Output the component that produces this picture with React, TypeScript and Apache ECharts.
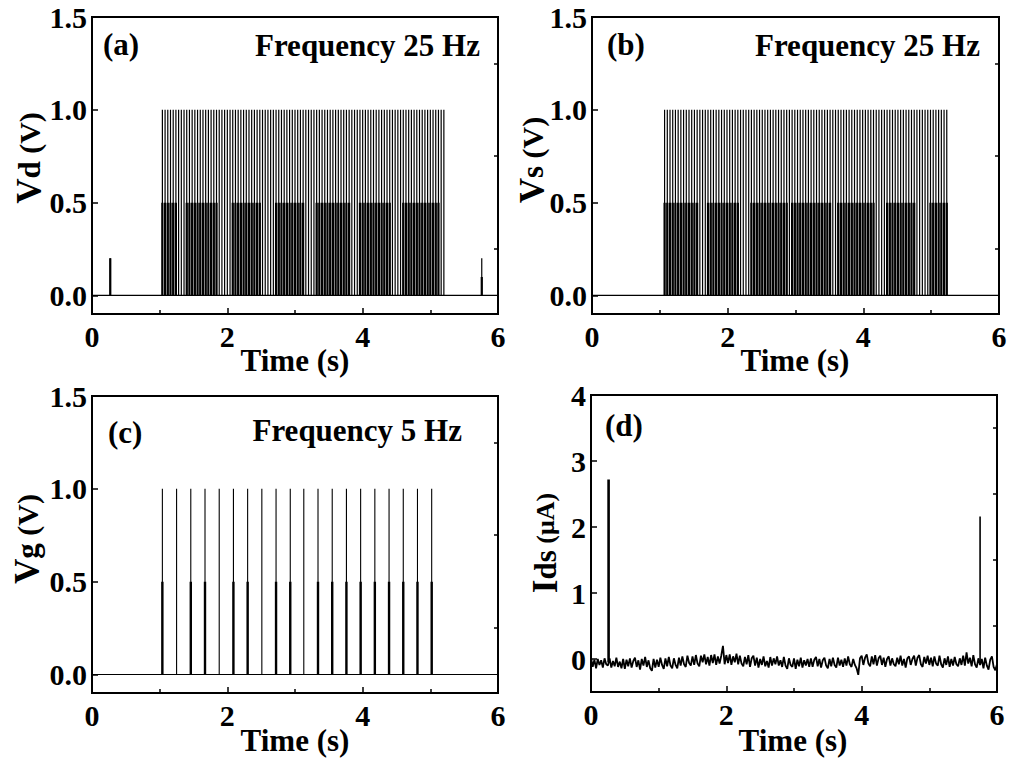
import React, { useEffect, useRef } from "react";
import * as echarts from "echarts";

// ---------- data ----------
const xTicks = [0, 2, 4, 6];
const vTickLabels = [0, 0.5, 1.0, 1.5];
const vMinorTicks = [0.25, 0.75, 1.25];
const iTickLabels = [0, 1, 2, 3, 4];
const iMinorTicks = [0.5, 1.5, 2.5, 3.5];

// (a) Vd : 25 Hz pulse train (pulse onset times, s)
const pulseTimesA = [
  1.04, 1.08, 1.12, 1.16, 1.2, 1.24, 1.28, 1.32, 1.36, 1.4, 1.44, 1.48, 1.52, 1.56, 1.6, 1.64, 1.68, 1.72, 1.76, 1.8,
  1.84, 1.88, 1.92, 1.96, 2.0, 2.04, 2.08, 2.12, 2.16, 2.2, 2.24, 2.28, 2.32, 2.36, 2.4, 2.44, 2.48, 2.52, 2.56, 2.6,
  2.64, 2.68, 2.72, 2.76, 2.8, 2.84, 2.88, 2.92, 2.96, 3.0, 3.04, 3.08, 3.12, 3.16, 3.2, 3.24, 3.28, 3.32, 3.36, 3.4,
  3.44, 3.48, 3.52, 3.56, 3.6, 3.64, 3.68, 3.72, 3.76, 3.8, 3.84, 3.88, 3.92, 3.96, 4.0, 4.04, 4.08, 4.12, 4.16, 4.2,
  4.24, 4.28, 4.32, 4.36, 4.4, 4.44, 4.48, 4.52, 4.56, 4.6, 4.64, 4.68, 4.72, 4.76, 4.8, 4.84, 4.88, 4.92, 4.96, 5.0,
  5.04, 5.08, 5.12, 5.16, 5.2,
];
const pulseHighA = 1.0;
const pulseLowA = 0.5;
// time spans where the 0.5 V plateau shows as dense black blocks
const halfBlocksA = [
  [1.04, 1.25], [1.4, 1.87], [2.06, 2.51], [2.69, 3.12], [3.31, 3.8], [3.95, 4.42], [4.58, 5.13],
];
const sideSpikesA = [[0.27, 0.2], [5.76, 0.2]];
const sideSpikesLowA = [[0.27, 0.2], [5.76, 0.1]];

// (b) Vs : 25 Hz pulse train
const pulseTimesB = [
  1.07, 1.11, 1.15, 1.19, 1.23, 1.27, 1.31, 1.35, 1.39, 1.43, 1.47, 1.51, 1.55, 1.59, 1.63, 1.67, 1.71, 1.75, 1.79, 1.83,
  1.87, 1.91, 1.95, 1.99, 2.03, 2.07, 2.11, 2.15, 2.19, 2.23, 2.27, 2.31, 2.35, 2.39, 2.43, 2.47, 2.51, 2.55, 2.59, 2.63,
  2.67, 2.71, 2.75, 2.79, 2.83, 2.87, 2.91, 2.95, 2.99, 3.03, 3.07, 3.11, 3.15, 3.19, 3.23, 3.27, 3.31, 3.35, 3.39, 3.43,
  3.47, 3.51, 3.55, 3.59, 3.63, 3.67, 3.71, 3.75, 3.79, 3.83, 3.87, 3.91, 3.95, 3.99, 4.03, 4.07, 4.11, 4.15, 4.19, 4.23,
  4.27, 4.31, 4.35, 4.39, 4.43, 4.47, 4.51, 4.55, 4.59, 4.63, 4.67, 4.71, 4.75, 4.79, 4.83, 4.87, 4.91, 4.95, 4.99, 5.03,
  5.07, 5.11, 5.15, 5.19, 5.23,
];
const pulseHighB = 1.0;
const pulseLowB = 0.5;
const halfBlocksB = [
  [1.06, 1.57], [1.69, 2.18], [2.33, 2.9], [2.95, 3.51], [3.63, 4.15], [4.32, 4.76], [4.96, 5.24],
];

// (c) Vg : 5 Hz pulse train
const pulseTimesC = [
  1.04, 1.25, 1.46, 1.67, 1.88, 2.09, 2.3, 2.51, 2.72, 2.93, 3.13, 3.34, 3.55, 3.76, 3.97, 4.18, 4.39, 4.6, 4.81, 5.02,
];
const pulseHighC = 1.0;
const pulseLowC = 0.5;
// whether the 0.5 V part of each pulse shows as a heavy line
const heavyLowC = [1, 0, 1, 1, 0, 1, 1, 0, 1, 1, 0, 1, 1, 1, 1, 1, 1, 1, 1, 1];

// (d) Ids : current (µA), sampled every 0.025 s from 0 to 6 s
const idsStep = 0.025;
const idsValues = [
  0.02, -0.12, -0.01, -0.14, 0.0, -0.09, -0.02, -0.13, 0.01, -0.08,
  -0.1, 0.01, -0.13, -0.03, -0.11, 0.02, -0.12, -0.04, -0.14, 0.0,
  -0.15, -0.01, -0.11, 0.01, -0.13, -0.03, 0.02, -0.12, -0.02, -0.16,
  0.0, -0.1, 0.03, -0.12, -0.02, -0.14, -0.18, 0.0, -0.13, -0.01,
  -0.12, 0.02, -0.09, -0.15, 0.01, -0.11, 0.03, -0.1, -0.14, 0.01,
  -0.09, -0.14, 0.02, -0.1, 0.04, -0.08, -0.12, 0.05, -0.06, -0.1,
  0.04, -0.09, 0.06, -0.07, -0.11, 0.05, -0.05, 0.07, -0.08, 0.03,
  -0.1, 0.06, -0.06, 0.07, -0.09, 0.04, -0.07, 0.05, 0.2, -0.08,
  0.06, -0.06, 0.07, -0.09, 0.04, -0.05, 0.08, -0.08, 0.05, -0.07,
  -0.11, 0.03, -0.08, 0.06, -0.12, 0.01, 0.05, -0.1, 0.02, -0.13,
  0.0, -0.09, 0.04, -0.11, -0.03, -0.13, 0.03, -0.1, 0.01, -0.08,
  0.04, -0.1, -0.02, -0.12, 0.03, -0.1, -0.15, 0.01, -0.09, -0.12,
  0.01, -0.15, -0.01, -0.11, 0.02, -0.13, -0.02, -0.1, 0.0, -0.12,
  0.01, -0.12, -0.01, 0.03, -0.11, 0.0, -0.13, -0.02, 0.02, -0.1,
  -0.14, 0.0, -0.11, 0.02, -0.09, -0.13, 0.02, -0.1, -0.01, -0.12,
  0.01, -0.1, 0.04, -0.08, -0.12, 0.0, -0.09, -0.14, -0.24, 0.01,
  0.05, -0.09, 0.02, 0.07, -0.07, -0.11, 0.04, -0.08, 0.06, -0.1,
  0.01, 0.05, -0.09, 0.02, -0.12, 0.0, 0.04, -0.1, 0.01, -0.08,
  -0.11, 0.02, -0.08, 0.05, -0.1, 0.0, -0.13, 0.01, 0.04, -0.09,
  0.0, 0.05, -0.1, 0.02, 0.06, -0.08, -0.12, 0.03, -0.07, 0.05,
  -0.09, 0.02, -0.11, 0.04, -0.07, -0.1, 0.05, -0.08, -0.13, 0.01,
  -0.09, 0.04, -0.12, 0.0, -0.1, 0.03, -0.08, -0.11, 0.01, -0.09,
  0.05, -0.1, 0.1, -0.07, 0.02, -0.11, 0.06, -0.08, -0.13, 0.01,
  -0.09, 0.0, -0.14, 0.02, -0.1, -0.16, -0.01, 0.04, -0.12, -0.17,
  -0.08,
];
const idsSpike1 = [[0.26, -0.05], [0.26, 2.72]];
const idsSpike2 = [[5.75, -0.04], [5.75, 2.16]];

// ---------- helpers ----------
const FONT = '"Liberation Serif", "Times New Roman", serif';

function inBlocks(t: number, blocks: number[][]) {
  return blocks.some(([a, b]) => t >= a - 1e-6 && t <= b + 1e-6);
}
function thinData(events: number[][]) {
  const ev = events.slice().sort((a, b) => a[0] - b[0]);
  const d: any[] = [[0, 0]];
  ev.forEach(([t, h]) => {
    d.push([t, 0], [t, h], [t, 0]);
  });
  d.push([6, 0]);
  return d;
}
function thickData(events: number[][]) {
  const d: any[] = [];
  events.forEach(([t, h]) => {
    d.push([t, 0], [t, h], [t, "-"]);
  });
  return d;
}

const grids = [
  { left: 92, top: 17, width: 406, height: 297 },
  { left: 592, top: 17, width: 407, height: 297 },
  { left: 92, top: 396, width: 406, height: 297 },
  { left: 591, top: 395, width: 406, height: 297 },
];

const labelStyle = {
  fontFamily: FONT,
  fontWeight: "bold",
  fontSize: 30,
  color: "#000",
};

function xAxisFor(i: number) {
  return {
    gridIndex: i,
    type: "value",
    min: 0,
    max: 6,
    interval: 2,
    axisLine: { show: false, onZero: false },
    splitLine: { show: false },
    axisTick: { show: true, inside: true, length: 6, lineStyle: { color: "#000", width: 1.5 } },
    minorTick: { show: true, splitNumber: 2, length: 4, lineStyle: { color: "#000", width: 1.5 } },
    minorSplitLine: { show: false },
    axisLabel: { ...labelStyle, margin: 7, customValues: xTicks, formatter: (v: number) => String(v) },
  };
}

function yAxesFor(i: number, min: number, max: number, labels: number[], minors: number[], dec: number) {
  return [
    {
      gridIndex: i,
      type: "value",
      min,
      max,
      axisLine: { show: false, onZero: false },
      splitLine: { show: false },
      axisTick: { show: true, inside: true, length: 6, customValues: labels, lineStyle: { color: "#000", width: 1.5 } },
      axisLabel: { ...labelStyle, margin: 5, customValues: labels, formatter: (v: number) => v.toFixed(dec) },
    },
    {
      gridIndex: i,
      type: "value",
      min,
      max,
      axisLine: { show: false, onZero: false },
      splitLine: { show: false },
      axisTick: { show: true, inside: true, length: 4, customValues: minors, lineStyle: { color: "#000", width: 1.5 } },
      axisLabel: { show: false },
    },
  ];
}

function lineSeries(i: number, data: any[], width: number, z = 2, color = "#000") {
  return {
    type: "line",
    xAxisIndex: i,
    yAxisIndex: i * 2,
    data,
    symbol: "none",
    silent: true,
    z,
    lineStyle: { color, width, cap: "butt", join: "bevel" },
  };
}

function text(x: number, y: number, t: string, size: number, align: string) {
  return {
    type: "text",
    x,
    y,
    silent: true,
    style: {
      text: t,
      fill: "#000",
      font: `bold ${size}px ${FONT}`,
      align,
      textAlign: align,
      verticalAlign: "middle",
      textVerticalAlign: "middle",
    },
  };
}

function yTitle(x: number, y: number, main: string, sub: string, unit: string, unitSize: number) {
  return {
    type: "text",
    x,
    y,
    rotation: Math.PI / 2,
    silent: true,
    style: {
      text: `{m|${main}}{s|${sub}}{u| ${unit}}`,
      fill: "#000",
      align: "center",
      textAlign: "center",
      verticalAlign: "middle",
      textVerticalAlign: "middle",
      rich: {
        m: { fontFamily: FONT, fontWeight: "bold", fontSize: 35, fill: "#000", color: "#000" },
        s: { fontFamily: FONT, fontWeight: "bold", fontSize: 31, fill: "#000", color: "#000" },
        u: { fontFamily: FONT, fontWeight: "bold", fontSize: unitSize, fill: "#000", color: "#000" },
      },
    },
  };
}

export default function App() {
  const ref = useRef<HTMLDivElement>(null);

  useEffect(() => {
    if (!ref.current) return;
    const chart = echarts.init(ref.current, null, { renderer: "svg" });

    const thinA = thinData([...pulseTimesA.map((t) => [t, pulseHighA]), ...sideSpikesA]);
    const thickA = thickData([
      ...pulseTimesA.filter((t) => inBlocks(t, halfBlocksA)).map((t) => [t, pulseLowA]),
      ...sideSpikesLowA,
    ]);
    const thinB = thinData(pulseTimesB.map((t) => [t, pulseHighB]));
    const thickB = thickData(pulseTimesB.filter((t) => inBlocks(t, halfBlocksB)).map((t) => [t, pulseLowB]));
    const thinC = thinData(pulseTimesC.map((t) => [t, pulseHighC]));
    const thickC = thickData(pulseTimesC.filter((_, k) => heavyLowC[k] === 1).map((t) => [t, pulseLowC]));
    const idsData = idsValues.map((v, k) => [k * idsStep, v]);

    const option: any = {
      animation: false,
      backgroundColor: "#fff",
      grid: grids.map((g) => ({
        ...g,
        show: true,
        borderColor: "#000",
        borderWidth: 2,
        backgroundColor: "transparent",
        containLabel: false,
      })),
      xAxis: [0, 1, 2, 3].map((i) => xAxisFor(i)),
      yAxis: [
        ...yAxesFor(0, -0.1, 1.5, vTickLabels, vMinorTicks, 1),
        ...yAxesFor(1, -0.1, 1.5, vTickLabels, vMinorTicks, 1),
        ...yAxesFor(2, -0.1, 1.5, vTickLabels, vMinorTicks, 1),
        ...yAxesFor(3, -0.5, 4, iTickLabels, iMinorTicks, 0),
      ],
      series: [
        lineSeries(0, thinA, 1.2),
        lineSeries(0, thickA, 2.2, 3),
        lineSeries(1, thinB, 1.2),
        lineSeries(1, thickB, 2.2, 3),
        lineSeries(2, thinC, 1.1),
        lineSeries(2, thickC, 2.4, 3),
        lineSeries(3, idsData, 1.8),
        lineSeries(3, idsSpike1, 2.6, 3),
        lineSeries(3, idsSpike2, 1.6, 3),
      ],
      graphic: [
        text(103, 44, "(a)", 31, "left"),
        text(480, 45, "Frequency 25 Hz", 31, "right"),
        text(607, 44, "(b)", 31, "left"),
        text(980, 45, "Frequency 25 Hz", 31, "right"),
        text(108, 432, "(c)", 31, "left"),
        text(462, 430, "Frequency 5 Hz", 31, "right"),
        text(605, 425, "(d)", 31, "left"),
        text(295, 360, "Time (s)", 31, "center"),
        text(795, 360, "Time (s)", 31, "center"),
        text(295, 740, "Time (s)", 31, "center"),
        text(793, 740, "Time (s)", 31, "center"),
        yTitle(29, 158, "V", "d", "(V)", 30),
        yTitle(532, 160, "V", "s", "(V)", 30),
        yTitle(27, 539, "V", "g", "(V)", 30),
        yTitle(545, 543, "I", "ds", "(μA)", 26),
      ],
    };
    chart.setOption(option);
    return () => chart.dispose();
  }, []);

  return (
    <div
      ref={ref}
      style={{ position: "fixed", left: 0, top: 0, width: 1010, height: 764, background: "#fff" }}
    />
  );
}
